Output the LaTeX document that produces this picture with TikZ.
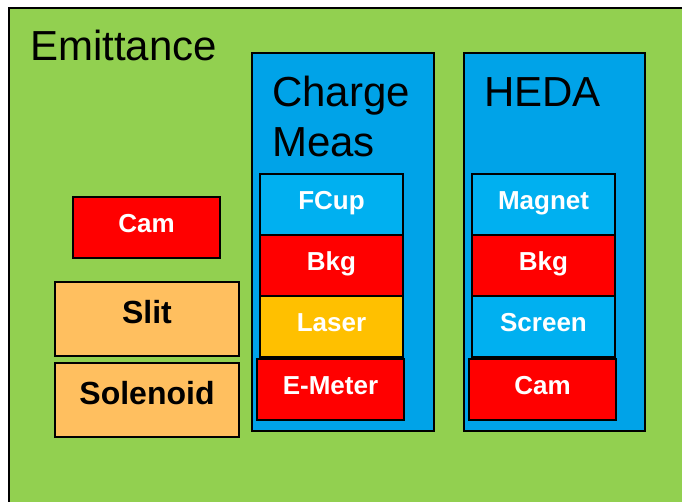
\documentclass[tikz,border=0pt]{standalone}
\usepackage{fontspec}
\setmainfont{Liberation Sans}
\usetikzlibrary{positioning}
\definecolor{emitgreen}{HTML}{92D050}
\definecolor{groupblue}{HTML}{00A3E8}
\definecolor{partblue}{HTML}{00B0F0}
\definecolor{partred}{HTML}{FF0000}
\definecolor{partgold}{HTML}{FFC000}
\definecolor{partsand}{HTML}{FFBF5F}
\newlength\unitpx
\setlength\unitpx{0.75pt}
\tikzset{
  heading/.style={anchor=base west, inner sep=0pt, font=\fontsize{31.5}{37}\selectfont},
  group/.style={draw=black, line width=1.1pt, fill=groupblue, inner sep=0pt, outer sep=0pt,
    minimum width=#1\unitpx, minimum height=378\unitpx},
  part/.style={draw=black, line width=1.2pt, inner sep=0pt, outer sep=0pt, text=white,
    minimum width=143\unitpx, minimum height=61\unitpx, text height=12pt, text depth=4pt,
    font=\bfseries\fontsize{19.5}{22}\selectfont},
  wide/.style={part, minimum width=147\unitpx},
  setup/.style={part, text=black, fill=partsand, minimum width=184\unitpx,
    minimum height=74\unitpx, text height=14pt, text depth=8pt,
    font=\bfseries\fontsize{24}{28}\selectfont}
}
\begin{document}
\begin{tikzpicture}[x=0.75pt,y=-0.75pt]

    \useasboundingbox (0,0) rectangle (682,501);
    \clip (0,0) rectangle (682,501);

    % outer frame
    \draw[fill=emitgreen, line width=1.1pt] (9,8) rectangle (720,540);
    \node[heading] (emit) at (30,60) {Emittance};

    % left column
    \node[wide, fill=partred] (cam) at (146.5,227.5) {Cam};
    \node[setup] (slit) at (147,319) {Slit};
    \node[setup] (solenoid) at (147,400) {Solenoid};

    % charge measurement
    \node[group=182] (charge) at (343,242) {};
    \node[heading] (chargetitle) at (272,106) {Charge};
    \node[heading] (meastitle) at (272,156) {Meas};
    \node[part, fill=partblue] (fcup) at (331.5,204.5) {FCup};
    \node[part, fill=partred, below=0pt of fcup] (bkgcharge) {Bkg};
    \node[part, fill=partgold, below=0pt of bkgcharge] (laser) {Laser};
    \node[wide, fill=partred] (emeter) at (330.5,389.5) {E-Meter};

    % HEDA
    \node[group=181] (heda) at (554.5,242) {};
    \node[heading] (hedatitle) at (484,106) {HEDA};
    \node[part, fill=partblue] (magnet) at (543.5,204.5) {Magnet};
    \node[part, fill=partred, below=0pt of magnet] (bkgheda) {Bkg};
    \node[part, fill=partblue, below=0pt of bkgheda] (screen) {Screen};
    \node[wide, fill=partred] (camheda) at (542.5,389.5) {Cam};

\end{tikzpicture}
\end{document}
